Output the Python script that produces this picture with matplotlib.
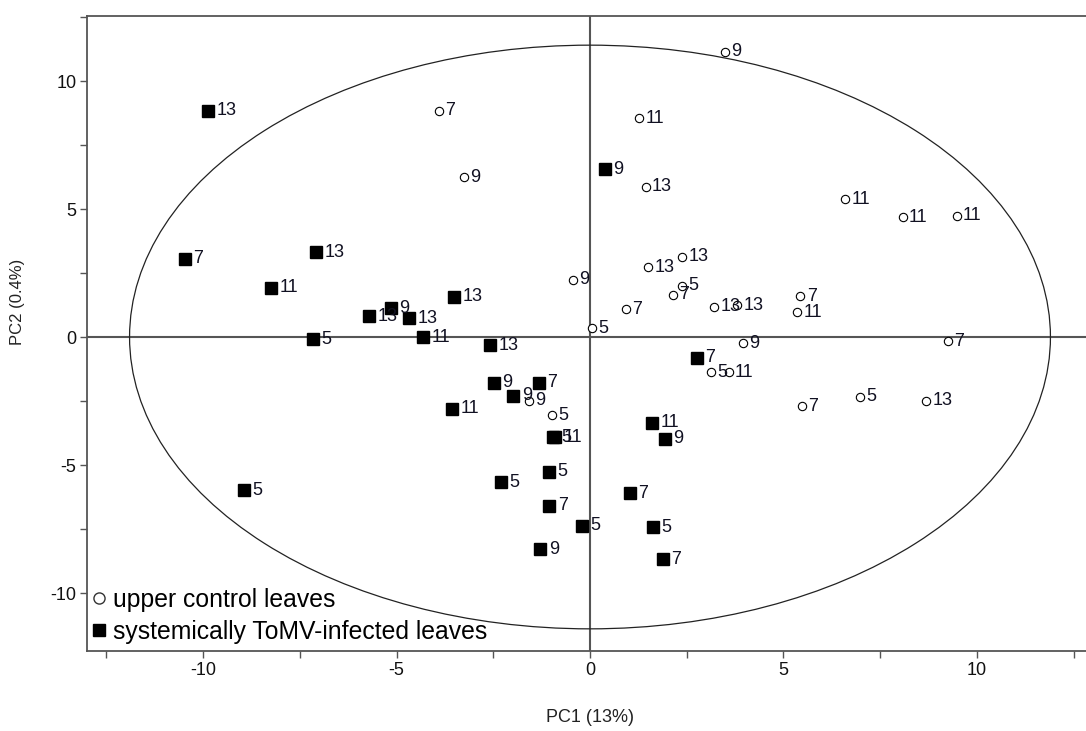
import matplotlib
matplotlib.use('Agg')
import matplotlib.pyplot as plt
from matplotlib.patches import Ellipse
from matplotlib.lines import Line2D
from matplotlib.ticker import MultipleLocator

plt.rcParams['font.family'] = ['Liberation Sans', 'DejaVu Sans']
plt.rcParams['axes.unicode_minus'] = False

# upper control leaves (open circles)
control_x = [-3.90, -3.25, 3.49, 1.27, 1.44, 6.60, 8.08, 9.48, 2.39, 1.50,
             -0.45, 2.39, 2.15, 0.94, 3.21, 3.80, 5.44, 5.35, 0.05, 3.96,
             9.24, 3.13, 3.58, 5.48, 6.97, 8.69, -1.57, -0.97]
control_y = [8.84, 6.24, 11.14, 8.54, 5.87, 5.38, 4.68, 4.74, 3.13, 2.72,
             2.23, 2.00, 1.65, 1.09, 1.18, 1.24, 1.60, 0.96, 0.34, -0.25,
             -0.16, -1.37, -1.37, -2.70, -2.34, -2.49, -2.49, -3.06]
control_lbl = ["7", "9", "9", "11", "13", "11", "11", "11", "13", "13",
               "9", "5", "7", "7", "13", "13", "7", "11", "5", "9",
               "7", "5", "11", "7", "5", "13", "9", "5"]

# systemically ToMV-infected leaves (filled squares)
infected_x = [-9.86, -10.46, -7.07, -8.24, -3.52, -5.15, -5.71, -4.68, -7.16, -4.32,
              -2.58, -2.48, -1.32, -1.98, -3.56, -0.95, -0.90, -1.05, -2.30, -1.05,
              -1.28, -8.93, -0.21, 1.04, 1.64, 1.88, 1.61, 1.93, 2.77, 0.38]
infected_y = [8.83, 3.05, 3.31, 1.93, 1.57, 1.12, 0.82, 0.73, -0.08, -0.01,
              -0.32, -1.79, -1.79, -2.30, -2.81, -3.91, -3.91, -5.26, -5.68, -6.59,
              -8.29, -5.98, -7.38, -6.11, -7.43, -8.68, -3.35, -3.97, -0.81, 6.56]
infected_lbl = ["13", "7", "13", "11", "13", "9", "13", "13", "5", "11",
                "13", "9", "7", "9", "11", "5", "11", "5", "5", "7",
                "9", "5", "5", "7", "5", "7", "11", "9", "7", "9"]

legend_labels = ["upper control leaves", "systemically ToMV-infected leaves"]
x_label = "PC1 (13%)"
y_label = "PC2 (0.4%)"
ellipse_a, ellipse_b = 11.9, 11.4

W, H = 1086, 731
fig = plt.figure(figsize=(W / 100, H / 100), dpi=100)
left, right, top, bottom = 87, 1093, 16, 651
ax = fig.add_axes([left / W, 1 - bottom / H, (right - left) / W, (bottom - top) / H])
ax.set_xlim(-13, 13)
ax.set_ylim((337 - 651) / 25.6, (337 - 16) / 25.6)

axis_col = '#555555'
for s in ['left', 'bottom', 'top', 'right']:
    ax.spines[s].set_color(axis_col)
    ax.spines[s].set_linewidth(1.3)

ax.xaxis.set_major_locator(MultipleLocator(5))
ax.xaxis.set_minor_locator(MultipleLocator(2.5))
ax.yaxis.set_major_locator(MultipleLocator(5))
ax.yaxis.set_minor_locator(MultipleLocator(2.5))
ax.tick_params(which='both', direction='out', length=5, width=1, color=axis_col,
               labelsize=13, labelcolor='#111111')
ax.tick_params(axis='y', pad=2.5)
ax.tick_params(axis='x', pad=3)

ax.axhline(0, color=axis_col, lw=1.5, zorder=1)
ax.axvline(0, color=axis_col, lw=1.5, zorder=1)

ax.add_patch(Ellipse((0, 0), 2 * ellipse_a, 2 * ellipse_b, fill=False,
                     ec='#222222', lw=0.9, zorder=2))

ax.plot(control_x, control_y, 'o', ms=6, mfc='white', mec='black', mew=0.8,
        ls='none', zorder=3)
ax.plot(infected_x, infected_y, 's', ms=8.5, color='black', ls='none', zorder=3)

for x, y, t in zip(control_x, control_y, control_lbl):
    ax.annotate(t, (x, y), xytext=(4.5, 0), textcoords='offset points',
                ha='left', va='center', fontsize=13, color='#111122', zorder=4)
for x, y, t in zip(infected_x, infected_y, infected_lbl):
    ax.annotate(t, (x, y), xytext=(6, 0), textcoords='offset points',
                ha='left', va='center', fontsize=13, color='#111122', zorder=4)

handles = [Line2D([], [], marker='o', ls='none', ms=8, mfc='white', mec='#333333', mew=1),
           Line2D([], [], marker='s', ls='none', ms=9, color='black')]
ax.legend(handles, legend_labels, loc='lower left', bbox_to_anchor=(-0.002, 0.0),
          frameon=False, fontsize=17.8, handlelength=0.5, handletextpad=0.35,
          labelspacing=0.32, borderaxespad=0.1, borderpad=0.2)

fig.text(589.7 / W, 1 - 718 / H, x_label, ha='center', va='center',
         fontsize=13, color='#222222')
fig.text(18 / W, 1 - 302 / H, y_label, ha='center', va='center', rotation=90,
         fontsize=12, color='#222222')

fig.savefig('out.png', dpi=100)
